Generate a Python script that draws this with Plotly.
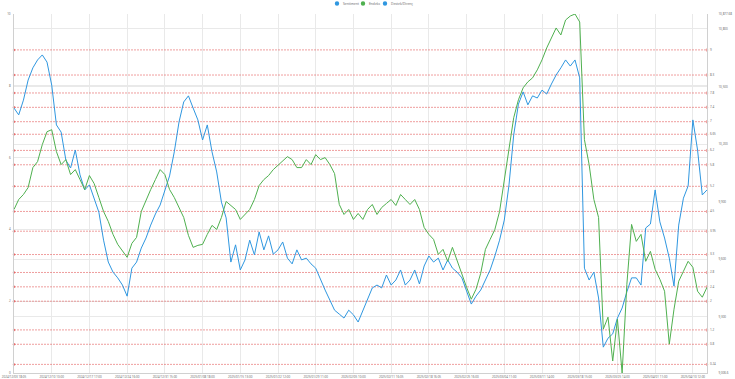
import plotly.graph_objects as go

# ---------------- data ----------------
tick_labels = [
    "2024/12/03 18:05", "2024/12/10 10:00", "2024/12/17 17:00", "2024/12/24 16:00",
    "2024/12/31 15:00", "2025/01/08 18:00", "2025/01/15 13:00", "2025/01/22 12:00",
    "2025/01/29 11:00", "2025/02/05 10:00", "2025/02/11 16:05", "2025/02/18 16:05",
    "2025/02/25 16:00", "2025/03/04 11:00", "2025/03/11 14:00", "2025/03/18 15:00",
    "2025/03/25 14:00", "2025/04/01 11:00", "2025/04/10 12:00",
]
tick_every = 8

sentiment = [
    7.38, 7.19, 7.60, 8.16, 8.50, 8.72, 8.86, 8.66, 8.02, 6.91,
    6.71, 5.93, 5.71, 6.21, 5.52, 5.10, 5.24, 4.87, 4.48, 3.70,
    3.09, 2.81, 2.65, 2.45, 2.14, 2.92, 3.09, 3.48, 3.76, 4.12,
    4.43, 4.68, 5.10, 5.49, 6.16, 6.99, 7.55, 7.72, 7.38, 7.05,
    6.49, 6.91, 6.16, 5.60, 4.76, 4.32, 3.09, 3.57, 2.87, 3.15,
    3.70, 3.29, 3.93, 3.43, 3.82, 3.31, 3.43, 3.65, 3.20, 3.04,
    3.43, 3.15, 3.20, 3.04, 2.92, 2.59, 2.31, 2.03, 1.75, 1.64,
    1.53, 1.75, 1.62, 1.42, 1.75, 2.09, 2.37, 2.45, 2.37, 2.73,
    2.45, 2.59, 2.87, 2.45, 2.59, 2.87, 2.48, 2.98, 3.26, 3.09,
    3.20, 2.87, 3.15, 2.92, 2.81, 2.65, 2.26, 1.92, 2.14, 2.31,
    2.59, 2.87, 3.26, 3.70, 4.26, 5.24, 6.63, 7.49, 7.83, 7.47,
    7.72, 7.66, 7.88, 7.77, 8.05, 8.30, 8.50, 8.72, 8.55, 8.72,
    8.22, 2.92, 2.59, 2.81, 2.09, 0.72, 0.97, 1.09, 1.53, 1.81,
    2.26, 2.65, 2.65, 2.45, 4.04, 4.15, 5.10, 4.21, 3.76, 3.20,
    2.42, 4.12, 4.87, 5.21, 7.05, 6.21, 4.96, 5.10,
]

endeks = [
    9858.9, 9910.9, 9936.9, 9973.2, 10077.2, 10108.4, 10196.7, 10264.3, 10274.7, 10160.3,
    10092.8, 10118.8, 10040.8, 10066.8, 10014.8, 9962.8, 10035.6, 9994.0, 9921.3, 9848.5,
    9796.5, 9729.0, 9677.0, 9640.6, 9609.5, 9682.2, 9713.4, 9848.5, 9910.9, 9962.8,
    10014.8, 10066.8, 10040.8, 9962.8, 9921.3, 9869.3, 9817.3, 9723.8, 9661.4, 9671.8,
    9677.0, 9729.0, 9775.8, 9755.0, 9817.3, 9900.5, 9879.7, 9858.9, 9806.9, 9832.9,
    9858.9, 9910.9, 9983.6, 10014.8, 10035.6, 10066.8, 10087.6, 10108.4, 10134.3, 10118.8,
    10077.2, 10077.2, 10118.8, 10092.8, 10144.7, 10118.8, 10129.2, 10092.8, 10046.0, 9884.9,
    9832.9, 9858.9, 9806.9, 9838.1, 9806.9, 9858.9, 9884.9, 9832.9, 9869.3, 9890.1,
    9910.9, 9879.7, 9936.9, 9910.9, 9884.9, 9910.9, 9858.9, 9765.4, 9729.0, 9703.0,
    9625.0, 9651.0, 9588.7, 9661.4, 9588.7, 9521.1, 9453.5, 9391.2, 9443.1, 9526.3,
    9651.0, 9703.0, 9755.0, 9848.5, 10004.4, 10181.1, 10337.0, 10430.6, 10492.9, 10524.1,
    10544.9, 10586.5, 10638.5, 10700.8, 10752.8, 10804.8, 10768.4, 10846.3, 10867.1, 10877.68,
    10835.9, 10222.7, 10092.8, 9910.9, 9817.3, 9235.3, 9297.6, 9069.0, 9287.2, 9006.6,
    9469.1, 9781.0, 9692.6, 9729.0, 9588.7, 9640.6, 9547.1, 9495.1, 9432.8, 9157.3,
    9339.2, 9484.7, 9536.7, 9588.7, 9557.5, 9432.8, 9401.6, 9453.5,
]

levels = [9, 8.3, 7.8, 7.4, 7, 6.65, 6.2, 5.8, 5.2, 4.5, 3.95, 3.3, 2.8, 2.4, 2, 1.2, 0.8, 0.24]

left_ticks = [0, 2, 4, 6, 8, 10]
right_ticks = [9006.6, 9300, 9600, 9900, 10200, 10500, 10800, 10877.68]
right_tick_text = ["9,006.6", "9,300", "9,600", "9,900", "10,200", "10,500", "10,800", "10,877.68"]

series_names = ["Sentiment", "Endeks", "Destek/Direnç"]

# ---------------- styles ----------------
BLUE = "#2f97e0"
GREEN = "#4fb04f"
RED = "rgba(226,80,80,0.7)"
GRID = "#e9e9e9"
TXT = "#6e6e6e"
FONT = "Noto Sans"

n = len(sentiment)
x = list(range(n))
last = n - 1

fig = go.Figure()

# support/resistance lines (left axis)
lx, ly = [], []
for v in levels:
    lx += [0, last, None]
    ly += [v, v, None]
fig.add_trace(go.Scatter(x=lx, y=ly, mode="lines", yaxis="y",
                         line=dict(color=RED, width=0.8, dash="2px,1px"),
                         hoverinfo="skip", showlegend=False))
fig.add_trace(go.Scatter(x=[0] * len(levels), y=levels, mode="markers", yaxis="y",
                         marker=dict(symbol="circle", size=2.5, color=RED),
                         cliponaxis=False, hoverinfo="skip", showlegend=False))
fig.add_trace(go.Scatter(x=[last] * len(levels), y=levels, mode="markers+text", yaxis="y",
                         marker=dict(symbol="triangle-right", size=3, color=RED),
                         text=[f"{v:g}" for v in levels], textposition="middle right",
                         textfont=dict(size=3, color=TXT, family=FONT),
                         cliponaxis=False, hoverinfo="skip", showlegend=False))

# main series
fig.add_trace(go.Scatter(x=x, y=endeks, mode="lines", yaxis="y2", name=series_names[1],
                         line=dict(color=GREEN, width=1), showlegend=False))
fig.add_trace(go.Scatter(x=x, y=sentiment, mode="lines", yaxis="y", name=series_names[0],
                         line=dict(color=BLUE, width=1), showlegend=False))

# manual compact legend (top centre)
W, H = 735, 379
ml, mr, mt, mb = 14, 28, 14, 6
pw, ph = W - ml - mr, H - mt - mb


def px_x(p):
    return (p - ml) / pw


def px_y(p):
    return (H - mb - p) / ph


legend_items = [(series_names[0], BLUE, 337), (series_names[1], GREEN, 363), (series_names[2], BLUE, 385)]
shapes, annotations = [], []
for name, col, px in legend_items:
    shapes.append(dict(type="circle", xref="paper", yref="paper",
                       xsizemode="pixel", ysizemode="pixel",
                       xanchor=px_x(px), yanchor=px_y(3.5),
                       x0=-2.2, x1=2.2, y0=-2.2, y1=2.2,
                       fillcolor=col, line=dict(width=0)))
    annotations.append(dict(xref="paper", yref="paper", x=px_x(px + 3.5), y=px_y(3.5),
                            text=name, showarrow=False, xanchor="left", yanchor="middle",
                            font=dict(size=3.3, color=TXT, family=FONT)))

fig.update_layout(
    width=W, height=H,
    margin=dict(l=ml, r=mr, t=mt, b=mb),
    paper_bgcolor="white", plot_bgcolor="white",
    font=dict(family=FONT, size=3, color=TXT),
    showlegend=False,
    shapes=shapes, annotations=annotations,
    xaxis=dict(range=[0, last], tickmode="array",
               tickvals=[i * tick_every for i in range(len(tick_labels))],
               ticktext=tick_labels, tickfont=dict(size=3, color=TXT),
               showgrid=True, gridcolor=GRID, gridwidth=0.6,
               showline=True, linecolor="#d0d0d0", linewidth=0.6,
               zeroline=False, ticks="", automargin=False, ticklabelstandoff=1),
    yaxis=dict(range=[0, 10], tickmode="array", tickvals=left_ticks,
               tickfont=dict(size=3, color=TXT),
               showgrid=True, gridcolor=GRID, gridwidth=0.6,
               showline=True, linecolor="#d0d0d0", linewidth=0.6,
               zeroline=False, ticks="", automargin=False, ticklabelstandoff=2),
    yaxis2=dict(range=[min(endeks), max(endeks)], overlaying="y", side="right",
                tickmode="array", tickvals=right_ticks, ticktext=right_tick_text,
                tickfont=dict(size=3, color=TXT),
                showgrid=True, gridcolor=GRID, gridwidth=0.6,
                showline=True, linecolor="#d0d0d0", linewidth=0.6,
                zeroline=False, ticks="", automargin=False, ticklabelstandoff=10),
)

fig.write_html("out.html",
               config={"displayModeBar": False},
               post_script="document.body.style.margin='0';document.body.style.padding='0';")
